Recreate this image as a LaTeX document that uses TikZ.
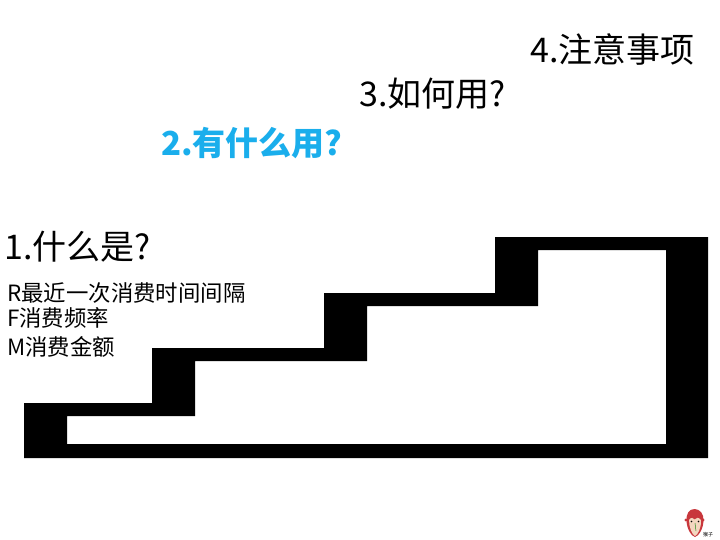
\documentclass[tikz,border=0pt]{standalone}
\usepackage{fontspec}
\setmainfont{Noto Sans CJK SC}
\definecolor{hl}{HTML}{1AAEEC}
\definecolor{monkeyred}{HTML}{C8373C}
\definecolor{monkeyskin}{HTML}{F3D6C0}
\begin{document}
\begin{tikzpicture}[x=1pt,y=-1pt,
  big/.style={anchor=west,inner sep=0pt,font=\fontsize{34}{34}\selectfont,text=black},
  sub/.style={anchor=west,inner sep=0pt,font=\fontsize{22.4}{22.4}\selectfont,text=black}]
\useasboundingbox (0,0) rectangle (720,540);
\fill[white] (0,0) rectangle (720,540);
% staircase frame
\fill[black,even odd rule]
  (24,458) -- (24,403) -- (152,403) -- (152,348) -- (324,348) -- (324,293) -- (495,293) -- (495,237) -- (708,237) -- (708,458) -- cycle
  (67,444) -- (67,416) -- (195,416) -- (195,361) -- (367,361) -- (367,306) -- (538,306) -- (538,250) -- (666,250) -- (666,444) -- cycle;
\node[big] (t4) at (530,49) {4.注意事项};
\node[big] (t3) at (359,94) {3.如何用?};
\node[big,text=hl,font=\fontsize{33}{33}\selectfont\bfseries] (t2) at (161,143) {2.有什么用?};
\node[big] (t1) at (4,247) {1.什么是?};
\node[sub] (r) at (7,293) {R最近一次消费时间间隔};
\node[sub] (f) at (7,318) {F消费频率};
\node[sub] (m) at (7,347) {M消费金额};
% monkey icon
\fill[monkeyred] (686,520) circle (1.6) (703,520) circle (1.6);
\fill[monkeyred] (694.5,509) .. controls (689,509) and (686,514) .. (686.5,521)
  .. controls (687,529) and (691,536) .. (695,537)
  .. controls (699,536) and (703,529) .. (703.5,521)
  .. controls (704,514) and (700,509) .. (694.5,509) -- cycle;
\fill[monkeyskin] (689,520) .. controls (691,517) and (693.5,517.5) .. (694.5,519.5)
  .. controls (695.5,517.5) and (699,517) .. (701,520)
  .. controls (701.5,527) and (698,535) .. (695,536)
  .. controls (692,535) and (689,527) .. (689,520) -- cycle;
\fill[black] (691.5,521.5) circle (0.9) (698.5,521.5) circle (0.9);
\draw[green!50!black,line width=.4pt] (695,523) -- (696,531);
\node[anchor=west,inner sep=0pt,font=\fontsize{5}{5}\selectfont,text=black] (mk) at (703,535) {猴子};
\end{tikzpicture}
\end{document}
